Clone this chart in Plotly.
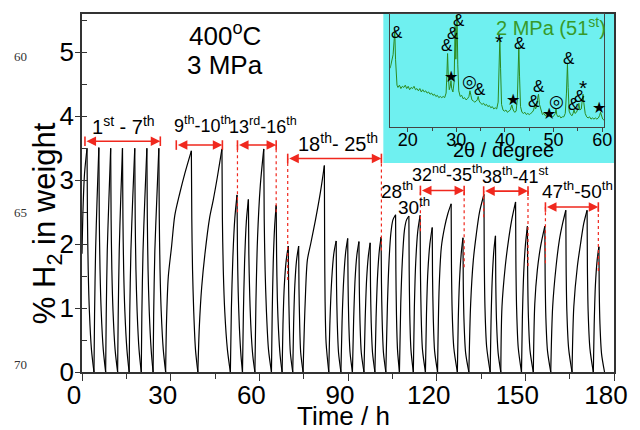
import plotly.graph_objects as go

# ---------------- cycling curve: time (h) vs wt% H2 ----------------
# each block lists absorption / desorption branches; None separates branches
cyc_01_07_t = [0, 0.35, 0.85, 1.7, None,
               1.7, 1.85, 2.1, 2.5, 3.2, 4.05, None,
               4.05, 4.25, 4.6, 5.1, 5.7, None,
               5.7, 5.85, 6.1, 6.5, 7.2, 8.0, None,
               8.0, 8.2, 8.55, 9.1, 9.7, None,
               9.7, 9.85, 10.1, 10.5, 11.2, 12.05, None,
               12.05, 12.25, 12.6, 13.1, 13.7, None,
               13.7, 13.85, 14.1, 14.5, 15.2, 15.95, None,
               15.95, 16.15, 16.55, 17.15, 17.85, None,
               17.85, 18.0, 18.25, 18.65, 19.3, 20.05, None,
               20.05, 20.25, 20.65, 21.25, 21.95, None,
               21.95, 22.1, 22.35, 22.75, 23.4, 24.05, None,
               24.05, 24.25, 24.65, 25.3, 26.0, None,
               26.0, 26.15, 26.4, 26.8, 27.5, 28.3]
cyc_01_07_y = [1.85, 2.55, 3.1, 3.5, None,
               3.5, 2.4, 1.6, 0.95, 0.35, 0, None,
               0, 0.9, 1.9, 2.7, 3.51, None,
               3.51, 2.4, 1.6, 0.95, 0.35, 0, None,
               0, 0.9, 1.9, 2.7, 3.5, None,
               3.5, 2.4, 1.6, 0.95, 0.35, 0, None,
               0, 0.9, 1.9, 2.7, 3.5, None,
               3.5, 2.4, 1.6, 0.95, 0.35, 0, None,
               0, 0.9, 1.9, 2.7, 3.5, None,
               3.5, 2.4, 1.6, 0.95, 0.35, 0, None,
               0, 0.9, 1.9, 2.7, 3.5, None,
               3.5, 2.4, 1.6, 0.95, 0.35, 0, None,
               0, 0.9, 1.9, 2.7, 3.5, None,
               3.5, 2.4, 1.6, 0.95, 0.35, 0]

cyc_09_10_t = [28.3, 28.6, 29.2, 30.3, 31.4, 33.1, 34.75, 37.0, None,
               37.0, 37.15, 37.4, 37.8, 38.4, 39.2, None,
               39.2, 39.7, 40.5, 41.6, 43.2, 44.4, 45.8, 47.35, None,
               47.35, 47.5, 47.8, 48.3, 49.2, 50.2]
cyc_09_10_y = [0, 0.8, 1.49, 1.96, 2.45, 2.8, 3.1, 3.46, None,
               3.46, 2.4, 1.6, 0.95, 0.35, 0, None,
               0, 0.71, 1.33, 1.85, 2.42, 2.69, 3.05, 3.49, None,
               3.49, 2.4, 1.6, 0.95, 0.35, 0]

cyc_13_16_t = [50.2, 50.55, 51.05, 51.7, 52.45, None,
               52.45, 52.6, 52.85, 53.25, 53.8, 54.3, None,
               54.3, 54.6, 55.0, 55.6, 56.3, None,
               56.3, 56.45, 56.75, 57.2, 57.8, 58.5, None,
               58.5, 58.85, 59.4, 60.3, 61.5, None,
               61.5, 61.65, 61.95, 62.4, 63.1, 64.1, None,
               64.1, 64.35, 64.7, 65.15, 65.7, None,
               65.7, 65.85, 66.1, 66.5, 67.05, 67.7]
cyc_13_16_y = [0, 1.0, 1.8, 2.4, 2.77, None,
               2.77, 1.9, 1.25, 0.7, 0.25, 0, None,
               0, 0.9, 1.7, 2.35, 2.70, None,
               2.70, 1.85, 1.2, 0.65, 0.25, 0, None,
               0, 1.1, 2.1, 2.9, 3.49, None,
               3.49, 2.4, 1.6, 0.95, 0.35, 0, None,
               0, 0.9, 1.7, 2.25, 2.61, None,
               2.61, 1.8, 1.15, 0.65, 0.25, 0]

cyc_18_25_t = [67.7, 68.0, 68.45, 69.1, 69.8, None,
               69.8, 69.92, 70.15, 70.5, 71.3, None,
               71.3, 71.6, 72.0, 72.6, 73.3, None,
               73.3, 73.42, 73.65, 74.0, 74.8, None,
               74.8, 75.5, 76.25, 77.4, 79.0, 80.7, 82.0, None,
               82.0, 82.1, 82.25, 82.6, 83.5, None,
               83.5, 83.9, 84.5, 85.2, 86.0, None,
               86.0, 86.12, 86.35, 86.8, 87.6, None,
               87.6, 88.0, 88.55, 89.2, 89.9, None,
               89.9, 90.02, 90.25, 90.7, 91.5, None,
               91.5, 91.9, 92.4, 93.0, 93.7, None,
               93.7, 93.82, 94.05, 94.5, 95.4, None,
               95.4, 95.8, 96.3, 96.9, 97.5, None,
               97.5, 97.62, 97.85, 98.3, 99.1, None,
               99.1, 99.5, 100.0, 100.6, 101.2, None,
               101.2, 101.32, 101.55, 102.0, 102.8]
cyc_18_25_y = [0, 0.75, 1.35, 1.75, 1.97, None,
               1.97, 1.3, 0.75, 0.3, 0, None,
               0, 0.75, 1.35, 1.75, 1.97, None,
               1.97, 1.3, 0.75, 0.3, 0, None,
               0, 1.07, 1.75, 2.01, 2.38, 2.82, 3.23, None,
               3.23, 2.0, 1.1, 0.45, 0, None,
               0, 0.8, 1.45, 1.85, 2.05, None,
               2.05, 1.35, 0.8, 0.3, 0, None,
               0, 0.8, 1.45, 1.87, 2.09, None,
               2.09, 1.38, 0.8, 0.3, 0, None,
               0, 0.8, 1.45, 1.83, 2.04, None,
               2.04, 1.35, 0.8, 0.3, 0, None,
               0, 0.8, 1.45, 1.82, 2.02, None,
               2.02, 1.33, 0.78, 0.3, 0, None,
               0, 0.85, 1.5, 1.9, 2.11, None,
               2.11, 1.4, 0.82, 0.3, 0]

cyc_26_35_t = [102.8, 103.35, 103.9, 104.5, 105.2, 106.1, None,
               106.1, 106.2, 106.4, 106.75, 107.4, None,
               107.4, 107.85, 108.4, 109.1, 109.8, 110.6, None,
               110.6, 110.7, 110.9, 111.3, 112.1, None,
               112.1, 112.45, 112.9, 113.6, 114.4, None,
               114.4, 114.5, 114.75, 115.2, 116.2, None,
               116.2, 116.55, 117.0, 117.7, 118.5, None,
               118.5, 118.6, 118.85, 119.3, 120.3, None,
               120.3, 120.85, 121.6, 122.7, 123.8, 124.9, None,
               124.9, 125.0, 125.25, 125.8, 127.0, None,
               127.0, 127.3, 127.7, 128.3, 128.9, None,
               128.9, 129.0, 129.25, 129.8, 130.9]
cyc_26_35_y = [0, 1.07, 1.75, 2.17, 2.38, 2.46, None,
               2.46, 1.6, 0.9, 0.35, 0, None,
               0, 1.07, 1.75, 2.22, 2.38, 2.44, None,
               2.44, 1.6, 0.9, 0.35, 0, None,
               0, 1.0, 1.7, 2.2, 2.45, None,
               2.45, 1.6, 0.9, 0.35, 0, None,
               0, 0.9, 1.55, 2.0, 2.26, None,
               2.26, 1.5, 0.85, 0.33, 0, None,
               0, 1.33, 1.96, 2.27, 2.48, 2.63, None,
               2.63, 1.7, 0.95, 0.38, 0, None,
               0, 0.8, 1.4, 1.85, 2.10, None,
               2.10, 1.4, 0.8, 0.3, 0]

cyc_36_41_t = [130.9, 131.5, 132.4, 133.4, 134.5, 136.0, None,
               136.0, 136.1, 136.35, 136.9, 138.1, None,
               138.1, 138.4, 138.8, 139.35, 139.9, None,
               139.9, 140.0, 140.25, 140.8, 141.7, None,
               141.7, 142.1, 143.2, 144.3, 145.4, 146.7, None,
               146.7, 146.8, 147.05, 147.6, 148.7, None,
               148.7, 149.0, 149.45, 150.05, 150.7, None,
               150.7, 150.8, 151.05, 151.6, 152.7]
cyc_36_41_y = [0, 1.07, 1.75, 2.15, 2.5, 2.78, None,
               2.78, 1.8, 1.0, 0.4, 0, None,
               0, 0.8, 1.45, 1.9, 2.13, None,
               2.13, 1.4, 0.8, 0.3, 0, None,
               0, 1.02, 1.65, 2.06, 2.38, 2.66, None,
               2.66, 1.75, 1.0, 0.38, 0, None,
               0, 0.85, 1.55, 2.0, 2.28, None,
               2.28, 1.5, 0.85, 0.33, 0]

cyc_47_50_t = [152.7, 153.2, 154.05, 155.15, 156.6, None,
               156.6, 156.7, 156.95, 157.5, 158.6, None,
               158.6, 159.25, 160.4, 161.5, 162.6, 163.7, None,
               163.7, 163.8, 164.05, 164.65, 165.8, None,
               165.8, 166.4, 167.6, 168.7, 169.75, 170.9, None,
               170.9, 171.0, 171.25, 171.85, 173.0, None,
               173.0, 173.3, 173.7, 174.3, 174.9, None,
               174.9, 175.0, 175.25, 175.8, 176.8]
cyc_47_50_y = [0, 1.07, 1.59, 1.96, 2.28, None,
               2.28, 1.5, 0.85, 0.33, 0, None,
               0, 1.02, 1.65, 2.06, 2.32, 2.53, None,
               2.53, 1.65, 0.95, 0.37, 0, None,
               0, 1.02, 1.65, 2.01, 2.32, 2.53, None,
               2.53, 1.65, 0.95, 0.37, 0, None,
               0, 0.75, 1.35, 1.75, 1.96, None,
               1.96, 1.3, 0.75, 0.28, 0]

# ---------------- cycle-range brackets ----------------
span_labels = ["1<sup>st</sup> - 7<sup>th</sup>", "9<sup>th</sup>-10<sup>th</sup>",
               "13<sup>rd</sup>-16<sup>th</sup>", "18<sup>th</sup>- 25<sup>th</sup>",
               "32<sup>nd</sup>-35<sup>th</sup>", "38<sup>th</sup>-41<sup>st</sup>",
               "47<sup>th</sup>-50<sup>th</sup>"]
span_label_size = [20, 18, 18, 20, 18, 18, 19]
span_t0 = [1.0, 31.9, 52.6, 69.6, 114.5, 135.9, 156.8]
span_t1 = [26.5, 47.5, 65.7, 101.3, 129.3, 150.9, 174.7]
span_level = [3.61, 3.55, 3.55, 3.34, 2.84, 2.83, 2.58]
span_label_t = [14.1, 40.7, 61.4, 86.5, 123.8, 146.6, 167.5]
span_label_y = [3.86, 3.87, 3.86, 3.59, 3.10, 3.07, 2.84]

# dotted guides from the brackets down to the marked peaks
guide_t = [52.6, 65.7, 69.6, 101.3, 114.5, 129.3, 135.9, 150.9, 156.8, 174.7]
guide_top = [3.55, 3.55, 3.34, 3.34, 2.84, 2.84, 2.83, 2.83, 2.58, 2.58]
guide_bottom = [2.5, 2.5, 1.44, 1.9, 2.2, 1.64, 2.42, 1.66, 1.70, 1.58]

# single cycle labels
cycle_labels = ["28<sup>th</sup>", "30<sup>th</sup>"]
cycle_label_t = [106.7, 112.4]
cycle_label_y = [2.84, 2.59]

# ---------------- inset: XRD pattern after the 51st cycle ----------------
two_theta = [16.4, 16.6, 16.8, 17.0, 17.2, 17.35, 17.5, 17.65, 17.8, 18.0, 18.3, 18.6, 18.9,
             19.2, 19.5, 19.8, 20.1, 20.4, 20.7, 21.0, 21.3, 21.6, 21.9, 22.2, 22.5, 22.8,
             23.1, 23.4, 23.7, 24.0, 24.3, 24.6, 24.9, 25.2, 25.5, 25.8, 26.1, 26.4, 26.7,
             27.0, 27.3, 27.6, 27.9, 28.05, 28.2, 28.35, 28.55, 28.75, 28.9, 29.05, 29.3,
             29.55, 29.75, 29.9, 30.05, 30.15, 30.3, 30.5, 30.8, 31.1, 31.4, 31.7, 32.0,
             32.3, 32.6, 32.8, 33.0, 33.2, 33.5, 33.8, 34.1, 34.3, 34.5, 34.7, 35.0, 35.3,
             35.6, 35.9, 36.2, 36.5, 36.8, 37.1, 37.4, 37.7, 38.0, 38.3, 38.6, 38.8, 38.95,
             39.1, 39.3, 39.6, 39.9, 40.2, 40.5, 40.8, 41.1, 41.4, 41.7, 42.0, 42.3, 42.55,
             42.7, 42.85, 43.0, 43.2, 43.5, 43.8, 44.1, 44.4, 44.7, 45.0, 45.3, 45.6, 45.9,
             46.1, 46.3, 46.5, 46.75, 46.9, 47.1, 47.4, 47.7, 48.0, 48.3, 48.6, 48.9, 49.2,
             49.5, 49.8, 50.1, 50.35, 50.5, 50.65, 50.9, 51.2, 51.5, 51.8, 52.1, 52.4,
             52.65, 52.85, 53.0, 53.2, 53.5, 53.8, 54.0, 54.2, 54.4, 54.7, 55.0, 55.2,
             55.4, 55.7, 55.9, 56.05, 56.2, 56.5, 56.8, 57.1, 57.4, 57.7, 58.0, 58.3,
             58.6, 58.9, 59.2, 59.45, 59.65, 59.85, 60.1, 60.4]
xrd_counts = [52, 56, 60, 64, 76, 84, 60, 42, 37, 35, 37, 34, 36,
              35, 37, 34, 36, 33, 35, 34, 36, 33, 34, 32, 34, 31,
              33, 31, 32, 30, 31, 29, 30, 28, 29, 27, 28, 26, 27,
              26, 27, 26, 30, 45, 65, 45, 33, 36, 41, 34, 31,
              40, 89, 60, 75, 99, 55, 32, 27, 28, 25, 26, 24,
              25, 27, 32, 28, 24, 23, 22, 23, 24, 27, 23, 21, 20,
              21, 19, 20, 18, 19, 17, 18, 16, 17, 16, 22, 50, 79,
              52, 20, 15, 14, 15, 13, 14, 15, 19.5, 15, 13, 14, 25,
              50, 71, 45, 18, 13, 12, 13, 11, 12, 11, 12, 13, 15,
              19.5, 16, 18, 26, 29, 20, 14, 11, 12, 10, 11, 10, 12,
              10, 9, 10, 12, 16, 11, 9, 10, 8, 9, 9, 12,
              30, 56, 35, 14, 11, 10, 12, 15, 12, 13, 16, 21,
              15, 16, 24, 29, 22, 12, 9, 8, 9, 7, 8, 7,
              8, 7, 8, 10, 13, 9, 7, 6]

# phase markers on the XRD peaks
phase_marks = ["&", "&", "&", "&", "★", "◎", "&", "*", "&", "★",
               "&", "&", "★", "◎", "&", "&", "&", "*", "★"]
phase_x = [17.7, 28.1, 29.3, 30.5, 28.95, 32.8, 34.8, 38.85, 43.1, 41.6,
           47.1, 45.9, 49.15, 50.7, 53.1, 54.2, 55.4, 56.1, 59.25]
phase_y = [84, 72.5, 83, 94.5, 45, 40.5, 33.5, 76, 74, 24,
           36, 22.5, 12, 22.5, 61, 20, 27, 35, 17.5]

RED = "#f0281e"
GREEN = "#2d8a1e"
FRAME = "#333333"
FONT = "Liberation Sans, Arial, DejaVu Sans, sans-serif"

t_all, y_all = [], []
for bt, by in [(cyc_01_07_t, cyc_01_07_y), (cyc_09_10_t, cyc_09_10_y),
               (cyc_13_16_t, cyc_13_16_y), (cyc_18_25_t, cyc_18_25_y),
               (cyc_26_35_t, cyc_26_35_y), (cyc_36_41_t, cyc_36_41_y),
               (cyc_47_50_t, cyc_47_50_y)]:
    t_all += bt + [None]
    y_all += by + [None]

fig = go.Figure()
fig.add_trace(go.Scatter(x=t_all, y=y_all, mode="lines", xaxis="x", yaxis="y",
                         line=dict(color="black", width=1.2, shape="spline", smoothing=0.8),
                         connectgaps=False, showlegend=False, hoverinfo="skip"))
fig.add_trace(go.Scatter(x=two_theta, y=xrd_counts, mode="lines", xaxis="x2", yaxis="y2",
                         line=dict(color=GREEN, width=1), showlegend=False, hoverinfo="skip"))

shapes = []
annotations = []

# cyan panel behind the inset
shapes.append(dict(type="rect", xref="paper", yref="paper", x0=0.5664, x1=1.0, y0=0.5838, y1=1.0,
                   fillcolor="#6ff0f0", line=dict(width=0), layer="below"))

# bracket arrows: double-headed arrow closed by short bars at both ends
for t0, t1, lv in zip(span_t0, span_t1, span_level):
    annotations.append(dict(x=t1, y=lv, ax=t0, ay=lv, xref="x", yref="y", axref="x", ayref="y",
                            text="", showarrow=True, arrowside="end+start", arrowhead=2,
                            startarrowhead=2, arrowsize=1.2, startarrowsize=1.2,
                            arrowwidth=1.6, arrowcolor=RED, standoff=0, startstandoff=0))
    for te in (t0, t1):
        shapes.append(dict(type="line", xref="x", yref="y", x0=te, x1=te, y0=lv - 0.075,
                           y1=lv + 0.075, line=dict(color=RED, width=1.6)))

for lab, lt, ly, fs in zip(span_labels, span_label_t, span_label_y, span_label_size):
    annotations.append(dict(x=lt, y=ly, xref="x", yref="y", text=lab, showarrow=False,
                            font=dict(size=fs, color="black", family=FONT)))

for gt, g0, g1 in zip(guide_t, guide_top, guide_bottom):
    shapes.append(dict(type="line", xref="x", yref="y", x0=gt, x1=gt, y0=g1, y1=g0,
                       line=dict(color=RED, width=1.2, dash="dot")))

for lab, lt, ly in zip(cycle_labels, cycle_label_t, cycle_label_y):
    annotations.append(dict(x=lt, y=ly, xref="x", yref="y", text=lab, showarrow=False,
                            font=dict(size=19, color="black", family=FONT)))

annotations.append(dict(x=48.5, y=5.28, xref="x", yref="y", text="400<sup>o</sup>C",
                        showarrow=False, font=dict(size=26, color="black", family=FONT)))
annotations.append(dict(x=48.5, y=4.80, xref="x", yref="y", text="3 MPa",
                        showarrow=False, font=dict(size=26, color="black", family=FONT)))

for m, px_, py_ in zip(phase_marks, phase_x, phase_y):
    size = 21 if m == "*" else (16 if m == "★" else 17)
    annotations.append(dict(x=px_, y=py_, xref="x2", yref="y2", text=m, showarrow=False,
                            font=dict(size=size, color="black", family=FONT)))
annotations.append(dict(x=49.5, y=88.5, xref="x2", yref="y2", text="2 MPa (51<sup>st</sup>)",
                        showarrow=False, font=dict(size=20, color="#379a2a", family=FONT)))
annotations.append(dict(x=0.7915, y=0.620, xref="paper", yref="paper", text="2θ / degree",
                        xanchor="center", yanchor="middle",
                        showarrow=False, font=dict(size=20, color="black", family=FONT)))

# axis titles
annotations.append(dict(x=0.4919, y=-0.122, xref="paper", yref="paper", text="Time / h",
                        xanchor="center", yanchor="middle",
                        showarrow=False, font=dict(size=26, color="black", family=FONT)))
annotations.append(dict(x=-0.0664, y=0.4148, xref="paper", yref="paper",
                        text="% H<sub>2</sub> in weight", textangle=-90, showarrow=False,
                        xanchor="center", yanchor="middle",
                        font=dict(size=31, color="black", family=FONT)))

# manuscript line numbers in the left margin
for num, yy in zip(["60", "65", "70"], [0.8799, 0.4455, 0.0223]):
    annotations.append(dict(x=-0.1153, y=yy, xref="paper", yref="paper", text=num,
                            showarrow=False, xanchor="center", yanchor="middle",
                            font=dict(size=13, color="#333333",
                                      family="Liberation Serif, Times New Roman, serif")))

fig.update_layout(
    width=640, height=430,
    margin=dict(l=82, r=16, t=14, b=58),
    paper_bgcolor="white", plot_bgcolor="rgba(0,0,0,0)",
    font=dict(family=FONT, color="black"),
    showlegend=False,
    shapes=shapes, annotations=annotations,
    xaxis=dict(domain=[0, 1], range=[0, 180], tick0=0, dtick=30, ticks="outside", ticklen=7,
               tickwidth=1.2, tickcolor=FRAME, showline=True, linecolor=FRAME, linewidth=1.5,
               mirror=True, showgrid=False, zeroline=False, tickfont=dict(size=26),
               ticklabelshift=-8, ticklabelstandoff=-8,
               minor=dict(dtick=15, ticks="outside", ticklen=5, tickcolor=FRAME,
                          tickwidth=1.2, showgrid=False)),
    yaxis=dict(domain=[0, 1], range=[0, 5.6], tick0=0, dtick=1, ticks="outside", ticklen=5,
               tickwidth=1.2, tickcolor=FRAME, showline=True, linecolor=FRAME, linewidth=1.5,
               mirror=True, showgrid=False, zeroline=False, tickfont=dict(size=26),
               ticklabelstandoff=-4,
               minor=dict(dtick=0.5, ticks="inside", ticklen=5, tickcolor=FRAME,
                          tickwidth=1.2, showgrid=False)),
    xaxis2=dict(domain=[0.5793, 0.9815], anchor="y2", range=[16.4, 60.4], tick0=0, dtick=10,
                ticks="outside", ticklen=4, tickcolor="#444444", showline=True,
                linecolor="#444444", linewidth=1.2, mirror=True, showgrid=False,
                zeroline=False, tickfont=dict(size=18), ticklabelstandoff=-8,
                minor=dict(dtick=5, ticks="outside", ticklen=3, tickcolor="#444444",
                           showgrid=False)),
    yaxis2=dict(domain=[0.6844, 1.0], anchor="x2", range=[0, 100], showticklabels=False,
                ticks="", showline=True, linecolor="#444444", linewidth=1.2, mirror=True,
                showgrid=False, zeroline=False),
)

fig.write_html("out.html")
